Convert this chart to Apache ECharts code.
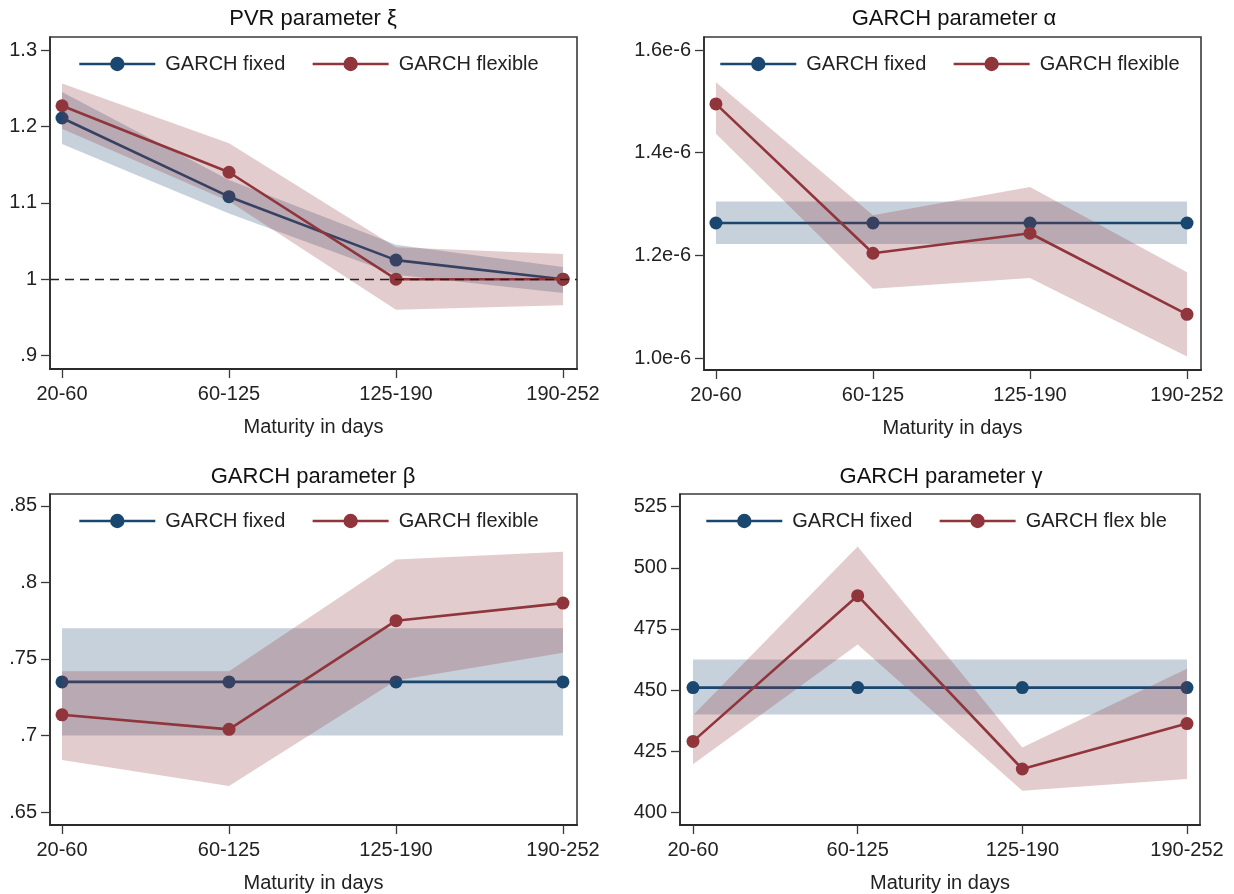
<!DOCTYPE html>
<html>
<head>
<meta charset="utf-8">
<script src="https://cdn.jsdelivr.net/npm/echarts@6/dist/echarts.min.js"></script>
<style>
html,body{margin:0;padding:0;background:#fff;}
#chart{width:1234px;height:894px;}
</style>
</head>
<body>
<div id="chart"></div>
<script>
// ---------- data ----------
const categories = ['20-60', '60-125', '125-190', '190-252'];

// PVR parameter xi
const xiFixed   = [1.211, 1.108, 1.025, 1.000];
const xiFixedLo = [1.177, 1.086, 1.006, 0.982];
const xiFixedHi = [1.245, 1.130, 1.045, 1.016];
const xiFlex    = [1.227, 1.140, 1.000, 1.000];
const xiFlexLo  = [1.197, 1.102, 0.960, 0.966];
const xiFlexHi  = [1.256, 1.178, 1.042, 1.033];
const xiTicks   = [0.9, 1.0, 1.1, 1.2, 1.3];

// GARCH alpha
const alphaFixed   = [1.263e-6, 1.263e-6, 1.263e-6, 1.263e-6];
const alphaFixedLo = [1.222e-6, 1.222e-6, 1.222e-6, 1.222e-6];
const alphaFixedHi = [1.305e-6, 1.305e-6, 1.305e-6, 1.305e-6];
const alphaFlex    = [1.495e-6, 1.204e-6, 1.243e-6, 1.085e-6];
const alphaFlexLo  = [1.437e-6, 1.135e-6, 1.156e-6, 1.003e-6];
const alphaFlexHi  = [1.537e-6, 1.278e-6, 1.333e-6, 1.167e-6];
const alphaTicks   = [1.0e-6, 1.2e-6, 1.4e-6, 1.6e-6];

// GARCH beta
const betaFixed   = [0.735, 0.735, 0.735, 0.735];
const betaFixedLo = [0.700, 0.700, 0.700, 0.700];
const betaFixedHi = [0.770, 0.770, 0.770, 0.770];
const betaFlex    = [0.7135, 0.704, 0.775, 0.7865];
const betaFlexLo  = [0.684, 0.667, 0.736, 0.754];
const betaFlexHi  = [0.742, 0.742, 0.815, 0.820];
const betaTicks   = [0.65, 0.70, 0.75, 0.80, 0.85];

// GARCH gamma
const gammaFixed   = [451, 451, 451, 451];
const gammaFixedLo = [440, 440, 440, 440];
const gammaFixedHi = [462.5, 462.5, 462.5, 462.5];
const gammaFlex    = [429, 488.6, 417.7, 436.3];
const gammaFlexLo  = [419.7, 468.6, 408.8, 413.6];
const gammaFlexHi  = [439.7, 508.7, 426.5, 458.7];
const gammaTicks   = [400, 425, 450, 475, 500, 525];

const titles = ['PVR parameter \u03BE', 'GARCH parameter \u03B1', 'GARCH parameter \u03B2', 'GARCH parameter \u03B3'];
const fixedName = 'GARCH fixed';
const flexNames = ['GARCH flexible', 'GARCH flexible', 'GARCH flexible', 'GARCH flex ble'];
const xTitle = 'Maturity in days';

// ---------- styling / layout ----------
const FONT = '"Liberation Sans", Arial, Helvetica, sans-serif';
const BLUE = '#1a476f';
const RED = '#90353b';
const BLUE_BAND = 'rgba(26,71,111,0.25)';
const RED_BAND = 'rgba(144,53,59,0.25)';

const stataFmt = v => {
  let s = String(+v.toFixed(3));
  return s.replace(/^0\./, '.');
};

const panels = [
  { grid: {left: 50, top: 37, width: 527, height: 332}, xr: [-0.072, 3.084], yr: [0.8825, 1.317],
    fixed: xiFixed, fixedLo: xiFixedLo, fixedHi: xiFixedHi, flex: xiFlex, flexLo: xiFlexLo, flexHi: xiFlexHi,
    ticks: xiTicks, fmt: stataFmt, title: [313, 19], legend: [78, 63], refLine: 1 },
  { grid: {left: 704, top: 37, width: 497, height: 333}, xr: [-0.076, 3.089], yr: [0.9766e-6, 1.6253e-6],
    fixed: alphaFixed, fixedLo: alphaFixedLo, fixedHi: alphaFixedHi, flex: alphaFlex, flexLo: alphaFlexLo, flexHi: alphaFlexHi,
    ticks: alphaTicks, fmt: v => (v * 1e6).toFixed(1) + 'e-6', title: [954, 19], legend: [719, 63] },
  { grid: {left: 50, top: 494, width: 527, height: 332}, xr: [-0.072, 3.084], yr: [0.6415, 0.8578],
    fixed: betaFixed, fixedLo: betaFixedLo, fixedHi: betaFixedHi, flex: betaFlex, flexLo: betaFlexLo, flexHi: betaFlexHi,
    ticks: betaTicks, fmt: stataFmt, title: [313, 477], legend: [78, 520] },
  { grid: {left: 680, top: 494, width: 520, height: 332}, xr: [-0.079, 3.079], yr: [394.8, 530.2],
    fixed: gammaFixed, fixedLo: gammaFixedLo, fixedHi: gammaFixedHi, flex: gammaFlex, flexLo: gammaFlexLo, flexHi: gammaFlexHi,
    ticks: gammaTicks, fmt: v => String(Math.round(v)), title: [941, 477], legend: [705, 520] }
];

const grids = [], xAxes = [], yAxes = [], series = [], legends = [], graphics = [];

function bandSeries(gi, lo, hi, color, z) {
  return {
    type: 'custom', xAxisIndex: gi, yAxisIndex: gi, z: z, silent: true,
    data: lo.map((v, i) => [i, v, hi[i]]),
    encode: {x: 0, y: [1, 2]},
    renderItem: function (params, api) {
      if (params.dataIndex !== 0) return null;
      const top = [], bot = [];
      for (let i = 0; i < lo.length; i++) {
        top.push(api.coord([i, hi[i]]));
        bot.push(api.coord([i, lo[i]]));
      }
      return {type: 'polygon', shape: {points: top.concat(bot.reverse())}, style: {fill: color}};
    }
  };
}

function lineSeries(gi, name, vals, color, z) {
  return {
    type: 'line', name: name, xAxisIndex: gi, yAxisIndex: gi, z: z,
    data: vals.map((v, i) => [i, v]),
    symbol: 'circle', symbolSize: 13, showSymbol: true,
    lineStyle: {color: color, width: 2.6},
    itemStyle: {color: color},
    emphasis: {disabled: true},
    animation: false
  };
}

panels.forEach((p, gi) => {
  grids.push(Object.assign({show: true, borderColor: '#3a3a3a', borderWidth: 1.6, backgroundColor: '#fff', containLabel: false}, p.grid));
  xAxes.push({
    type: 'value', gridIndex: gi, min: p.xr[0], max: p.xr[1],
    axisLine: {show: true, onZero: false, lineStyle: {color: '#2a2a2a', width: 2}},
    axisTick: {show: true, length: 9, customValues: [0, 1, 2, 3], lineStyle: {color: '#3a3a3a', width: 1.3}},
    axisLabel: {customValues: [0, 1, 2, 3], formatter: v => categories[Math.round(v)], fontSize: 20, fontFamily: FONT, color: '#222', margin: 15},
    splitLine: {show: false},
    name: xTitle, nameLocation: 'middle', nameGap: 48,
    nameTextStyle: {fontSize: 20, fontFamily: FONT, color: '#222'}
  });
  yAxes.push({
    type: 'value', gridIndex: gi, min: p.yr[0], max: p.yr[1],
    axisLine: {show: true, onZero: false, lineStyle: {color: '#2a2a2a', width: 1.6}},
    axisTick: {show: true, length: 9, customValues: p.ticks, lineStyle: {color: '#3a3a3a', width: 1.3}},
    axisLabel: {customValues: p.ticks, formatter: p.fmt, fontSize: 20, fontFamily: FONT, color: '#222', margin: 13},
    splitLine: {show: false}
  });
  series.push(bandSeries(gi, p.fixedLo, p.fixedHi, BLUE_BAND, 1));
  const fs = lineSeries(gi, fixedName, p.fixed, BLUE, 2);
  if (p.refLine !== undefined) {
    fs.markLine = {
      silent: true, symbol: 'none', label: {show: false}, animation: false,
      lineStyle: {type: [9, 6], color: '#222', width: 1.3},
      data: [{yAxis: p.refLine}]
    };
  }
  series.push(fs);
  series.push(bandSeries(gi, p.flexLo, p.flexHi, RED_BAND, 3));
  series.push(lineSeries(gi, flexNames[gi], p.flex, RED, 4));

  legends.push({
    left: p.legend[0], top: p.legend[1] - 9, orient: 'horizontal', padding: 0,
    data: [fixedName, flexNames[gi]],
    itemWidth: 76, itemHeight: 18, itemGap: 26,
    selectedMode: false,
    lineStyle: {width: 2.6},
    textStyle: {fontSize: 20, fontFamily: FONT, color: '#222', padding: [0, 0, 0, 5]}
  });
  graphics.push({
    type: 'text', x: p.title[0], y: p.title[1],
    style: {text: titles[gi], align: 'center', verticalAlign: 'middle', font: '22px ' + FONT, fill: '#111'}
  });
});

const chart = echarts.init(document.getElementById('chart'), null, {renderer: 'canvas'});
chart.setOption({
  backgroundColor: '#fff',
  animation: false,
  grid: grids, xAxis: xAxes, yAxis: yAxes,
  legend: legends, series: series, graphic: graphics
});
</script>
</body>
</html>
